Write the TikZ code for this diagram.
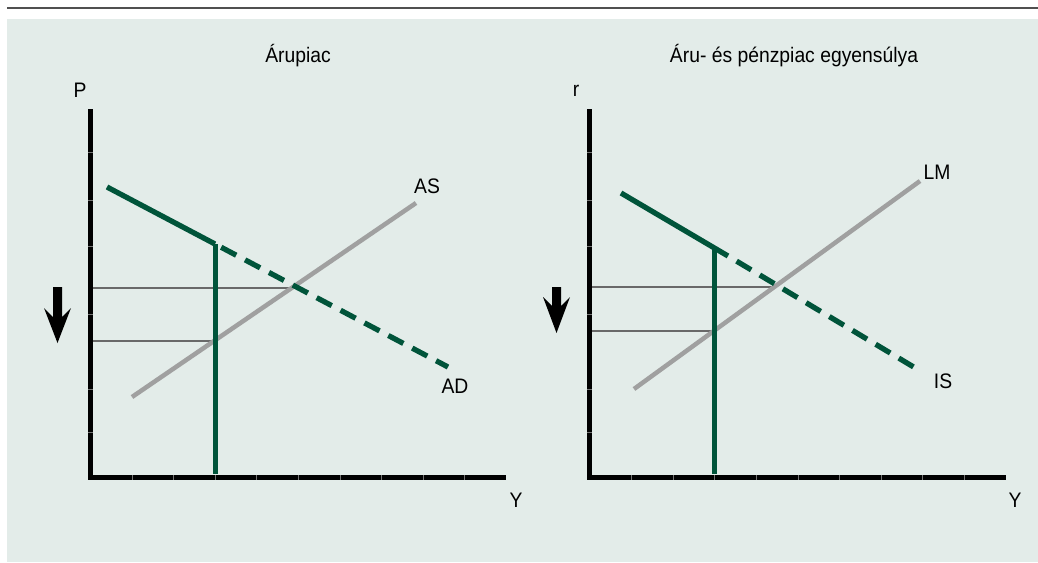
\documentclass[tikz,border=0pt]{standalone}
\usepackage{fontspec}
\setmainfont{Liberation Sans}[FakeStretch=0.92]
\usetikzlibrary{calc}
\definecolor{bgc}{RGB}{227,236,233}
\definecolor{dgreen}{RGB}{0,84,58}
\definecolor{lgray}{RGB}{160,160,160}
\definecolor{mgray}{RGB}{105,105,105}
\definecolor{rulec}{RGB}{80,80,80}
\tikzset{
  axis/.style={line width=5pt, black},
  tickmark/.style={line width=0.5pt, black!55},
  demand/.style={line width=5.3pt, dgreen},
  demanddash/.style={line width=5.3pt, dgreen, dash pattern=on 17pt off 10pt},
  vline/.style={line width=5pt, dgreen},
  supply/.style={line width=4.5pt, lgray},
  level/.style={line width=1.7pt, mgray},
  lbl/.style={font=\fontsize{21}{24}\selectfont, inner sep=0pt},
  downarrow/.style={fill=black, draw=none}
}
\begin{document}
\begin{tikzpicture}[x=1pt,y=-1pt]
\useasboundingbox (0,0) rectangle (1038,562);
\fill[bgc] (7,19) rectangle (1038,562);
\draw[line width=2.5pt, rulec] (7,8) -- (1038,8);

% ---------- left panel ----------
\node[lbl] (t1) at (298,56) {Árupiac};
\node[lbl] (P) at (80,90) {P};
\node[lbl] (Y1) at (516,500) {Y};
\coordinate (Ytop1) at (90.5,109);
\coordinate (Xend1) at (506,477.5);
\draw[axis] (Ytop1) -- (90.5,480);
\draw[axis] (88,477.5) -- (Xend1);
\foreach \x in {132,173,215,256,298,340,381,423,464}
  \draw[tickmark] (\x,475) -- (\x,480);
\foreach \y in {152,200,246,314,389,432}
  \draw[tickmark] (88,\y) -- (93,\y);

\coordinate (AD1) at (107,187);
\coordinate (AD2) at (215,244);
\coordinate (AD3) at (448,367);
\coordinate (AS1) at (132,397);
\coordinate (AS2) at (416,203);
\coordinate (E1) at (295,288);
\coordinate (F1) at (215,341);
\coordinate (B1) at (215,474);

\draw[level] (93,288) -- (E1);
\draw[level] (93,341) -- (F1);
\draw[supply] (AS1) -- (AS2);
\draw[vline] (AD2) -- (B1);
\draw[demand, line join=miter] (AD1) -- (AD2);
\draw[demanddash] ($(AD2)!7pt!(AD3)$) -- (AD3);
\node[lbl] (AS) at (427,186) {AS};
\node[lbl] (AD) at (455,386) {AD};

\fill[downarrow] (53,287) -- (62,287) -- (62,317) -- (71,308) -- (57.5,343) -- (44,308) -- (53,317) -- cycle;

% ---------- right panel ----------
\node[lbl] (t2) at (794,56) {Áru- és pénzpiac egyensúlya};
\node[lbl] (r) at (576,91) {r};
\node[lbl] (Y2) at (1015,500) {Y};
\coordinate (Ytop2) at (589.5,109);
\coordinate (Xend2) at (1006,477.5);
\draw[axis] (Ytop2) -- (589.5,480);
\draw[axis] (587,477.5) -- (Xend2);
\foreach \x in {631,673,714,756,798,839,881,922,964}
  \draw[tickmark] (\x,475) -- (\x,480);
\foreach \y in {152,200,246,314,389,432}
  \draw[tickmark] (587,\y) -- (592,\y);

\coordinate (IS1) at (621,193);
\coordinate (IS2) at (728,256);
\coordinate (IS3) at (917,369);
\coordinate (LM1) at (634,389);
\coordinate (LM2) at (920,181);
\coordinate (E2) at (776,287);
\coordinate (F2) at (714,331);
\coordinate (K2) at (714,248);
\coordinate (B2) at (714,474);

\draw[level] (592,287) -- (E2);
\draw[level] (592,331) -- (F2);
\draw[supply] (LM1) -- (LM2);
\draw[vline] (K2) -- (B2);
\draw[demand] (IS1) -- (IS2);
\draw[demanddash] ($(IS2)!10pt!(IS3)$) -- (IS3);
\node[lbl] (LM) at (937,172) {LM};
\node[lbl] (IS) at (943,381) {IS};

\fill[downarrow] (552,287) -- (561,287) -- (561,306) -- (570,297) -- (556.5,333) -- (543,297) -- (552,306) -- cycle;
\end{tikzpicture}
\end{document}
